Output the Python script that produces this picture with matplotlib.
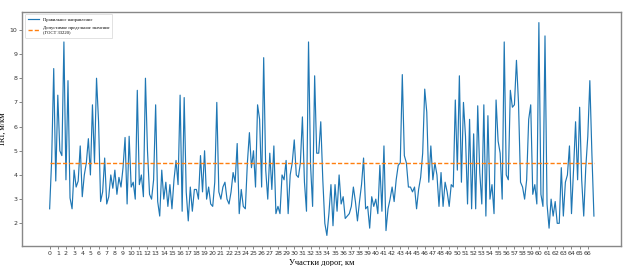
import numpy as np
import matplotlib
matplotlib.use('Agg')
import matplotlib.pyplot as plt

# IRI values, 4 samples per km (step 0.25 km)
iri = [
    2.6, 4.65, 8.4, 3.75,   # km 0
    7.3, 5.0, 4.8, 9.5,
    3.8, 7.9, 3.05, 2.6,
    4.2, 3.5, 3.75, 5.2,
    3.1, 4.0, 4.5, 5.5,
    4.0, 6.9, 4.5, 8.0,     # km 5
    6.2, 2.9, 3.3, 4.7,
    2.8, 3.1, 4.0, 3.45,
    4.2, 3.2, 3.9, 3.5,
    4.3, 5.55, 2.8, 5.6,
    3.5, 3.7, 3.0, 7.5,     # km 10
    3.6, 4.0, 3.1, 8.0,
    5.0, 3.2, 3.0, 3.8,
    6.9, 2.9, 2.3, 4.2,
    3.0, 3.7, 2.7, 3.6,
    2.6, 3.8, 4.6, 3.6,     # km 15
    7.3, 2.5, 7.2, 3.3,
    2.1, 3.5, 2.5, 3.4,
    3.4, 3.0, 4.8, 3.3,
    5.0, 3.0, 3.5, 2.8,
    2.7, 3.7, 7.0, 3.3,     # km 20
    3.0, 3.5, 3.7, 3.0,
    2.8, 3.3, 4.1, 3.7,
    5.3, 2.4, 3.4, 2.7,
    2.6, 4.5, 5.75, 4.3,
    5.0, 3.5, 6.9, 6.3,     # km 25
    3.5, 8.85, 4.2, 3.0,
    4.9, 3.4, 5.2, 2.4,
    2.7, 2.4, 4.0, 3.8,
    4.6, 2.4, 4.0, 4.5,
    5.45, 4.0, 3.9, 4.5,    # km 30
    6.4, 3.7, 2.5, 9.5,
    4.4, 2.7, 8.1, 4.9,
    4.9, 6.2, 3.8, 2.0,
    1.5, 2.4, 3.6, 1.9,
    3.6, 2.5, 4.0, 2.8,     # km 35
    3.1, 2.2, 2.3, 2.4,
    2.7, 3.5, 2.9, 2.1,
    2.9, 3.6, 4.7, 2.6,
    2.7, 1.8, 3.1, 2.7,
    3.0, 2.4, 4.4, 2.5,     # km 40
    5.2, 1.7, 2.6, 3.0,
    3.5, 2.9, 3.8, 4.4,
    4.5, 8.15, 4.8, 4.5,
    3.5, 3.5, 3.3, 3.5,
    2.6, 3.4, 3.9, 4.9,     # km 45
    7.55, 6.6, 3.7, 5.2,
    3.8, 4.5, 4.0, 2.7,
    4.1, 2.7, 3.7, 3.3,
    2.7, 3.6, 3.5, 7.1,
    4.2, 8.1, 3.7, 7.0,     # km 50
    5.6, 2.8, 6.3, 2.6,
    5.7, 2.6, 6.86, 4.1,
    2.8, 6.9, 2.3, 6.45,
    3.0, 3.6, 2.4, 7.1,
    5.4, 4.9, 3.0, 9.5,     # km 55
    4.0, 3.8, 7.5, 6.8,
    6.9, 8.74, 7.0, 3.7,
    3.5, 3.0, 3.8, 6.3,
    6.9, 3.2, 3.6, 2.8,
    10.3, 3.2, 2.7, 9.75,   # km 60
    2.8, 1.8, 3.0, 2.3,
    2.9, 2.0, 2.0, 4.3,
    2.3, 3.7, 4.0, 5.2,
    2.4, 4.2, 6.2, 3.8,
    6.8, 3.8, 2.3, 4.3,     # km 65
    5.6, 7.9, 4.9, 2.3,
]
km = np.arange(len(iri)) * 0.25
limit_value = 4.5
xtick_labels = [str(i) for i in range(67)]

serif = ['Liberation Serif', 'DejaVu Serif']

fig = plt.figure(figsize=(6.23, 2.66), dpi=100)
ax = fig.add_axes([0.036, 0.075, 0.961, 0.88])

ax.plot(km, iri, color='#1f77b4', lw=0.85, label='Правильное направление')
ax.plot([km[0], km[-1]], [limit_value, limit_value], color='#ff7f0e', lw=1.0,
        ls='--', dashes=(3, 1.5), label='Допустимое предельное значение\n(ГОСТ 33220)')

ax.set_xticks(range(67))
ax.set_xticklabels(xtick_labels)
ax.set_yticks(range(2, 11))
ax.tick_params(labelsize=4.5, length=2, width=0.5, color='#555555', pad=1.5,
               labelcolor='#333333')
for s in ax.spines.values():
    s.set_color('#888888')
    s.set_linewidth(1.0)

ax.set_xlabel('Участки дорог, км', family=serif, fontsize=6, labelpad=2)
ax.set_ylabel('IRI, м/км', family=serif, fontsize=6)
ax.yaxis.set_label_coords(-0.026, 0.5)

leg = ax.legend(loc='upper left', prop={'family': serif, 'size': 3.3},
                frameon=True, borderpad=0.7, handlelength=2.4,
                labelspacing=0.9)
leg.get_frame().set_linewidth(0.5)

fig.savefig('out.png', dpi=100)
